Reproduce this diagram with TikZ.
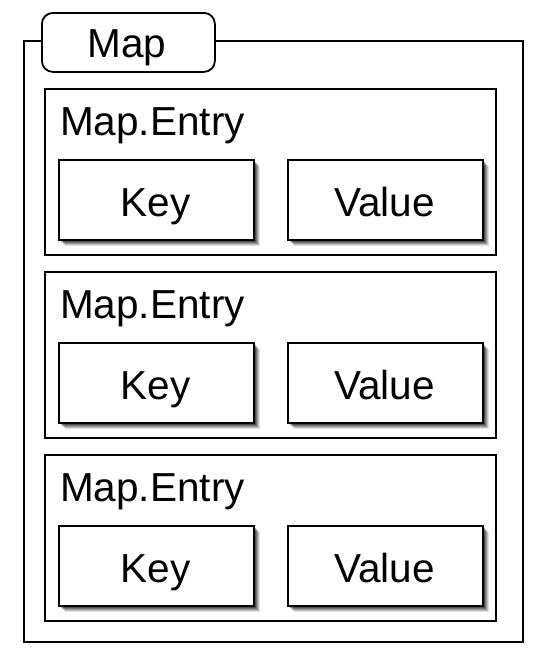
\documentclass[tikz,border=0pt]{standalone}
\usepackage{fontspec}
\setmainfont{Liberation Sans}
\usetikzlibrary{shadows}
\begin{document}
\begin{tikzpicture}[x=1pt,y=-1pt,
  frame/.style={draw=black,line width=1.8pt},
  inner/.style={draw=black,line width=1.8pt,fill=white,
    drop shadow={shadow xshift=6pt,shadow yshift=-6pt,opacity=0.12,fill=black},
    drop shadow={shadow xshift=5pt,shadow yshift=-5pt,opacity=0.15,fill=black},
    drop shadow={shadow xshift=4pt,shadow yshift=-4pt,opacity=0.2,fill=black},
    drop shadow={shadow xshift=3pt,shadow yshift=-3pt,opacity=0.25,fill=black},
    drop shadow={shadow xshift=2pt,shadow yshift=-2pt,opacity=0.3,fill=black}},
  lbl/.style={font=\fontsize{40.5}{48}\selectfont,inner sep=0pt}]
\useasboundingbox[fill=white] (0,0) rectangle (546,657);
% outer frame
\node[frame,rectangle,minimum width=499pt,minimum height=601pt,anchor=north west,inner sep=0pt] (outer) at (23,40) {};
% tab
\node[frame,fill=white,rounded corners=11pt,minimum width=173pt,minimum height=59pt,anchor=north west,inner sep=0pt] (tab) at (41,12) {};
\node[lbl,anchor=base] (maplbl) at (127,57) {Map};
% entries
\foreach \i/\y in {1/88,2/271,3/454}{
  \node[frame,fill=white,minimum width=451pt,minimum height=166pt,anchor=north west,inner sep=0pt] (entry\i) at (44,\y) {};
  \node[lbl,anchor=base west] (entrylbl\i) at (60,\y+47) {Map.Entry};
  \node[inner,minimum width=195pt,minimum height=80pt,anchor=north west,inner sep=0pt] (key\i) at (58,\y+71) {};
  \node[lbl,anchor=base] (keylbl\i) at (155.5,\y+128) {Key};
  \node[inner,minimum width=195pt,minimum height=80pt,anchor=north west,inner sep=0pt] (val\i) at (287,\y+71) {};
  \node[lbl,anchor=base] (vallbl\i) at (384.5,\y+128) {Value};
}
\end{tikzpicture}
\end{document}
